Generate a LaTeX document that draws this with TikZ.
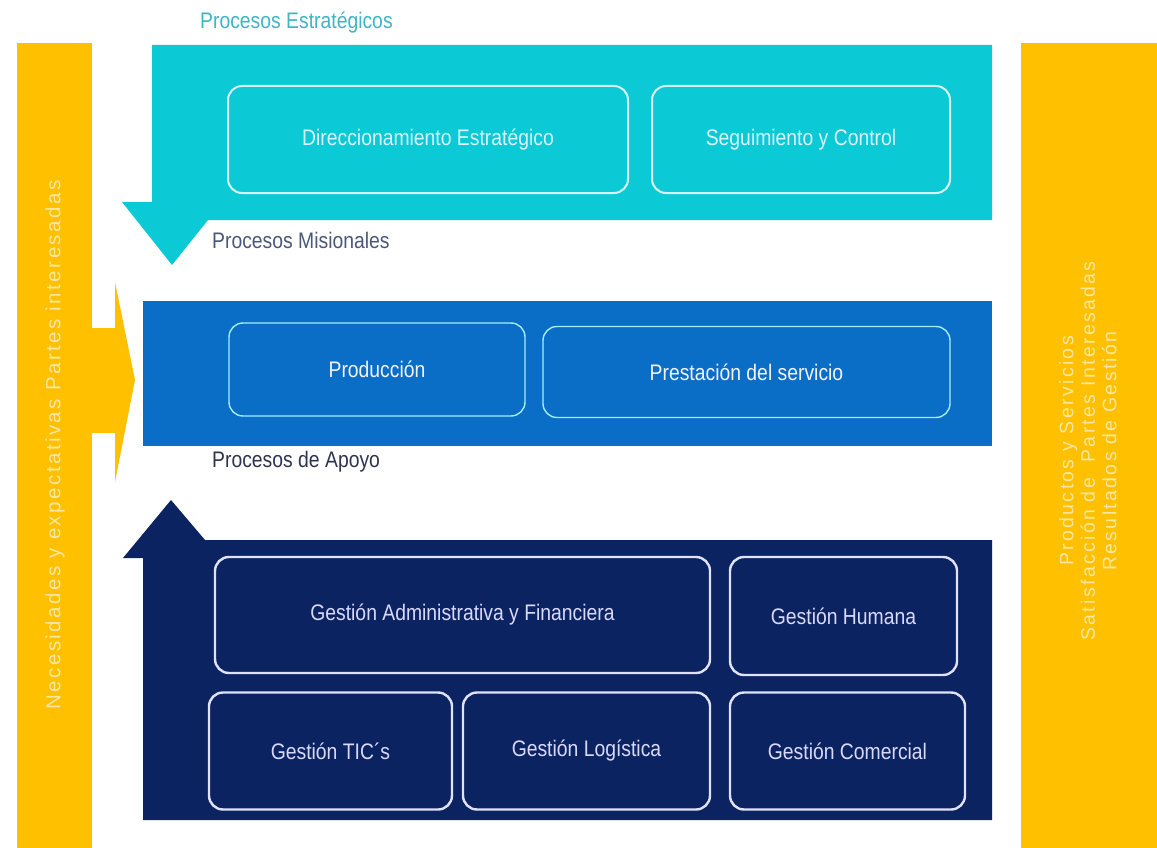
\documentclass[tikz,border=0pt]{standalone}
\usepackage{fontspec}
\setmainfont{Liberation Sans}
\newfontfamily\narrowfont{Liberation Sans}[FakeStretch=0.86]
\usepackage{xcolor}
\usepackage{tikz}
\usetikzlibrary{calc}

\definecolor{estrcyan}{HTML}{0BCAD6}
\definecolor{misblue}{HTML}{0A6EC6}
\definecolor{apoyonavy}{HTML}{0B2360}
\definecolor{amarillo}{HTML}{FFC000}
\definecolor{amarillotxt}{HTML}{FCE6A2}

\begin{document}
\begin{tikzpicture}[x=1pt,y=-1pt,
	proc/.style={rounded corners=14pt,align=center,inner sep=0pt,
		font=\narrowfont\fontsize{22.5}{24}\selectfont},
	estrbox/.style={proc,draw=cyan!15,line width=2pt,text=cyan!15},
	misbox/.style={proc,draw=blue!20!cyan!35,line width=1.4pt,text=blue!5},
	apoyobox/.style={proc,draw=white!88!blue,line width=2.4pt,text=white!85!blue},
	titulo/.style={anchor=west,inner sep=0pt,font=\narrowfont\fontsize{22.5}{24}\selectfont},
	lateral/.style={rotate=90,align=center,text=amarillotxt,inner sep=0pt}]

\useasboundingbox (0,0) rectangle (1157,848);

% columnas laterales
\fill[amarillo] (17,43) rectangle (92,848);
\fill[amarillo] (92,328) -- (115,328) -- (115,282) -- (135,380) -- (115,482) -- (115,433) -- (92,433) -- cycle;
\fill[amarillo] (1021,43) rectangle (1157,848);

% bandas de procesos
\fill[estrcyan] (152,45) -- (992,45) -- (992,220) -- (208,220) -- (172,265) -- (122,202) -- (152,202) -- cycle;
\fill[misblue] (143,301) rectangle (992,446);
\fill[apoyonavy] (143,820) -- (992,820) -- (992,540) -- (205,540) -- (171,500) -- (123,558) -- (143,558) -- cycle;

\node[titulo,text={rgb,255:red,61;green,181;blue,198}] (estrat) at (200,23) {Procesos Estratégicos};
\node[titulo,text={rgb,255:red,74;green,88;blue,120}] (misional) at (212,240) {Procesos Misionales};
\node[titulo,text={rgb,255:red,46;green,51;blue,80}] (apoyo) at (212,462) {Procesos de Apoyo};

% estrategicos
\node[estrbox,minimum width=400pt,minimum height=107pt] (direc) at (428,139.5) {Direccionamiento Estratégico};
\node[estrbox,minimum width=298pt,minimum height=107pt] (segui) at (801,139.5) {Seguimiento y Control};

% misionales
\node[misbox,minimum width=296pt,minimum height=93pt] (produ) at (377,369.5) {Producción};
\node[misbox,minimum width=407pt,minimum height=91pt] (prest) at (746.5,372) {Prestación del servicio};

% apoyo
\node[apoyobox,minimum width=495pt,minimum height=116pt] (admin) at (462.5,615) {Gestión Administrativa y Financiera};
\node[apoyobox,minimum width=227pt,minimum height=118pt] (human) at (843.5,616) {Gestión Humana};
\foreach \nombre/\x/\w/\txt in {tic/330.5/243/{Gestión TIC´s},logis/586.5/247/{Gestión Logística},comer/847.5/235/{Gestión Comercial}}
{
	\node[apoyobox,minimum width=\w pt,minimum height=117pt] (\nombre) at (\x,751) {\txt};
}

% textos verticales
\node[lateral,font=\fontsize{20.5}{22}\selectfont\addfontfeature{LetterSpace=12}] (necesid) at (55,445) {Necesidades y expectativas Partes interesadas};
\node[lateral,font=\fontsize{19.5}{21.5}\selectfont\addfontfeature{LetterSpace=12}] (result) at (1088,451)
	{Productos y Servicios\\Satisfacción de \ Partes Interesadas\\Resultados de Gestión};

\end{tikzpicture}
\end{document}
